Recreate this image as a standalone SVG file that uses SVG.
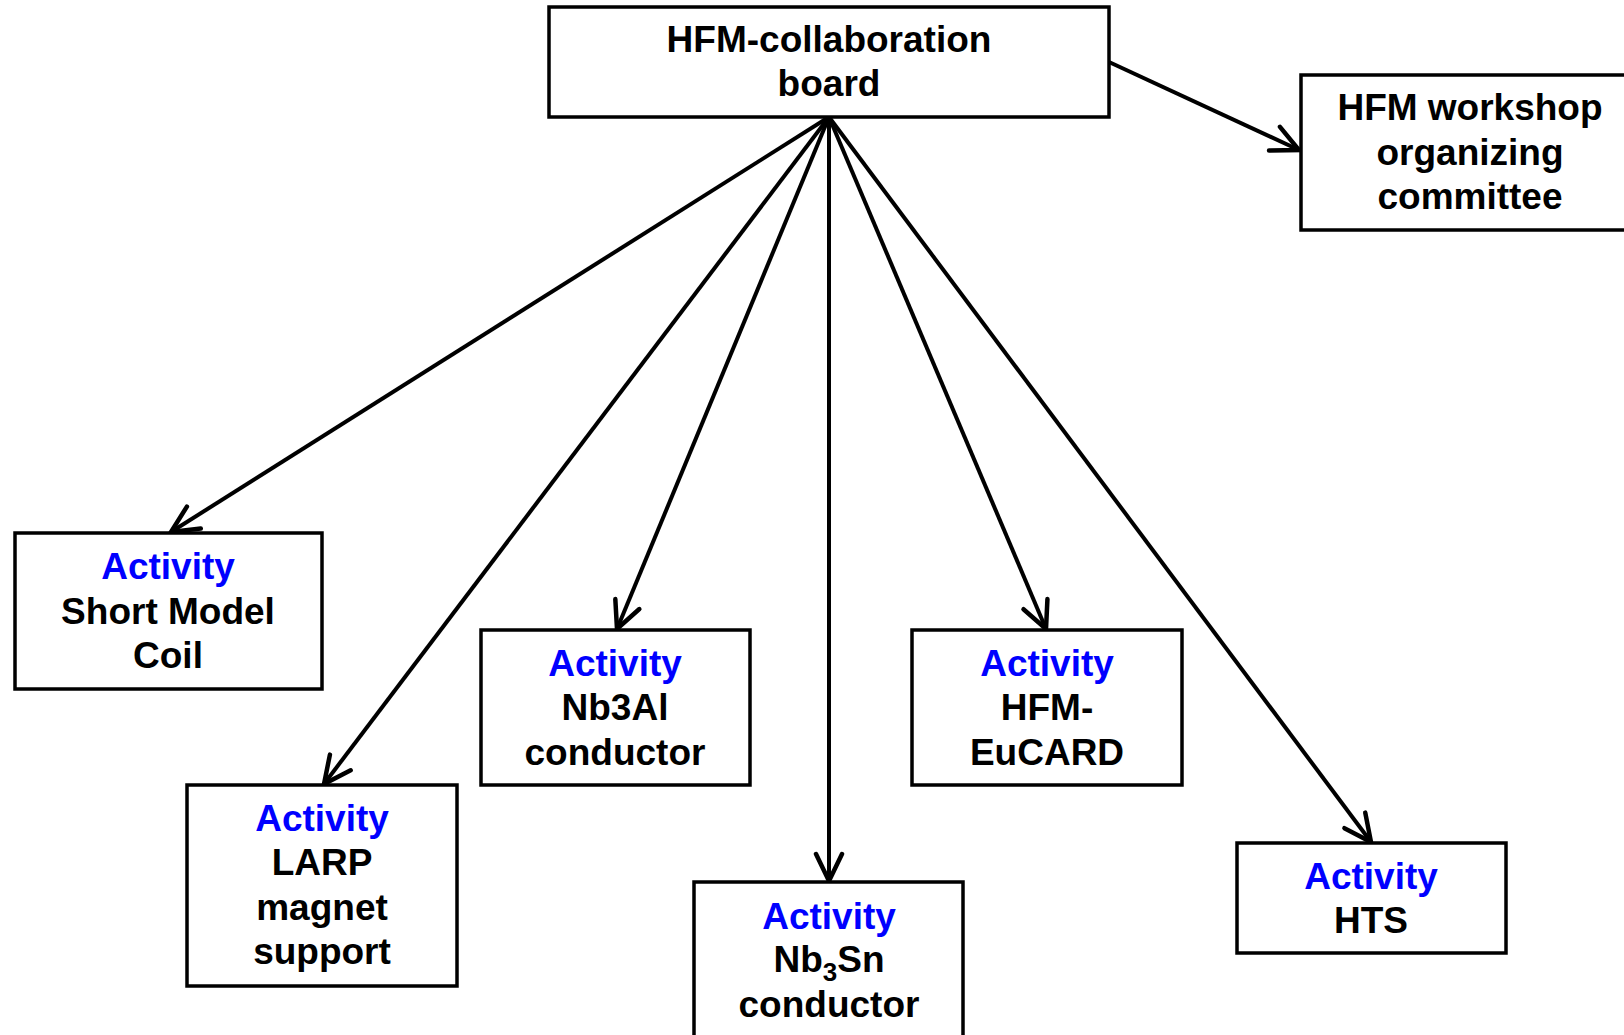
<svg xmlns="http://www.w3.org/2000/svg" width="1624" height="1035" viewBox="0 0 1624 1035">
<style>
.box{fill:#fff;stroke:#000;stroke-width:3.5}
.t{font-family:"Liberation Sans",Arial,sans-serif;font-weight:bold;font-size:37px;text-anchor:middle;fill:#000}
.a{fill:#0000ff}
.c{fill:none;stroke:#000;stroke-width:4}
</style>
<defs>
<marker id="arr" markerUnits="userSpaceOnUse" viewBox="0 0 32 32" refX="30" refY="16" markerWidth="32" markerHeight="32" orient="auto">
<path d="M3,3 L30,16 L3,29" fill="none" stroke="#000" stroke-width="4.5" stroke-linecap="round" stroke-linejoin="miter"/>
</marker>
</defs>
<rect width="1624" height="1035" fill="#fff"/>
<g id="connectors">
<line class="c" x1="1109" y1="62" x2="1299" y2="150" marker-end="url(#arr)"/>
<line class="c" x1="829" y1="117" x2="171" y2="532" marker-end="url(#arr)"/>
<line class="c" x1="829" y1="117" x2="324" y2="784" marker-end="url(#arr)"/>
<line class="c" x1="829" y1="117" x2="617" y2="629" marker-end="url(#arr)"/>
<line class="c" x1="829" y1="117" x2="829" y2="881" marker-end="url(#arr)"/>
<line class="c" x1="829" y1="117" x2="1046" y2="629" marker-end="url(#arr)"/>
<line class="c" x1="829" y1="117" x2="1371" y2="842" marker-end="url(#arr)"/>
</g>
<g id="board">
<rect class="box" x="549" y="7" width="560" height="110"/>
<text class="t" x="829" y="52">HFM-collaboration</text>
<text class="t" x="829" y="96">board</text>
</g>
<g id="workshop">
<rect class="box" x="1301" y="75" width="340" height="155"/>
<text class="t" x="1470" y="120">HFM workshop</text>
<text class="t" x="1470" y="165">organizing</text>
<text class="t" x="1470" y="209">committee</text>
</g>
<g id="smc">
<rect class="box" x="15" y="533" width="307" height="156"/>
<text class="t a" x="168" y="579">Activity</text>
<text class="t" x="168" y="624">Short Model</text>
<text class="t" x="168" y="668">Coil</text>
</g>
<g id="larp">
<rect class="box" x="187" y="785" width="270" height="201"/>
<text class="t a" x="322" y="831">Activity</text>
<text class="t" x="322" y="875">LARP</text>
<text class="t" x="322" y="920">magnet</text>
<text class="t" x="322" y="964">support</text>
</g>
<g id="nb3al">
<rect class="box" x="481" y="630" width="269" height="155"/>
<text class="t a" x="615" y="676">Activity</text>
<text class="t" x="615" y="720">Nb3Al</text>
<text class="t" x="615" y="765">conductor</text>
</g>
<g id="nb3sn">
<rect class="box" x="694" y="882" width="269" height="170"/>
<text class="t a" x="829" y="929">Activity</text>
<text class="t" x="829" y="972">Nb<tspan font-size="26" dy="9">3</tspan><tspan dy="-9">Sn</tspan></text>
<text class="t" x="829" y="1017">conductor</text>
</g>
<g id="eucard">
<rect class="box" x="912" y="630" width="270" height="155"/>
<text class="t a" x="1047" y="676">Activity</text>
<text class="t" x="1047" y="720">HFM-</text>
<text class="t" x="1047" y="765">EuCARD</text>
</g>
<g id="hts">
<rect class="box" x="1237" y="843" width="269" height="110"/>
<text class="t a" x="1371" y="889">Activity</text>
<text class="t" x="1371" y="933">HTS</text>
</g>
</svg>
